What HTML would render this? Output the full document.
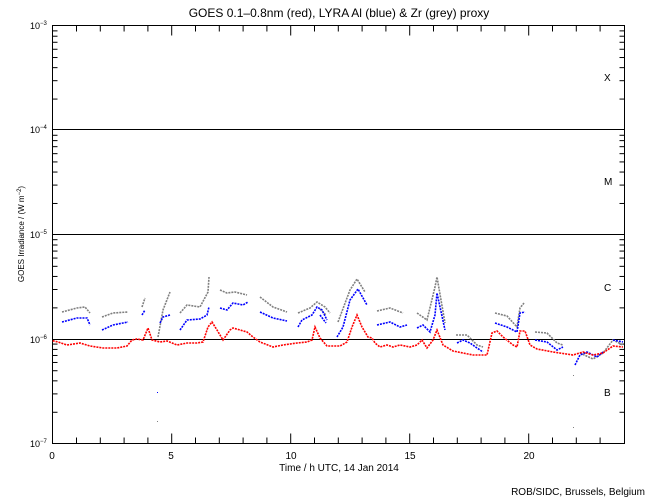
<!DOCTYPE html>
<html><head><meta charset="utf-8"><style>
body{margin:0;background:#fff;}
svg{display:block;font-family:"Liberation Sans",sans-serif;}
</style></head><body>
<svg id="s" width="650" height="500" xmlns="http://www.w3.org/2000/svg">
<rect width="650" height="500" fill="#fff"/>
<text x="339" y="17" font-size="12" text-anchor="middle">GOES 0.1–0.8nm (red), LYRA Al (blue) &amp; Zr (grey) proxy</text>
<g stroke="#000" stroke-width="1" fill="none">
<rect x="52.5" y="25.5" width="572" height="418"/>
<line x1="52" y1="129.5" x2="624" y2="129.5"/>
<line x1="52" y1="234.5" x2="624" y2="234.5"/>
<line x1="52" y1="339.5" x2="624" y2="339.5"/>
</g>
<g id="ticks" stroke="#000" stroke-width="1"></g>
<g font-size="9">
<text x="30" y="447">10<tspan font-size="6" dy="-4">−7</tspan></text>
<text x="30" y="343">10<tspan font-size="6" dy="-4">−6</tspan></text>
<text x="30" y="238">10<tspan font-size="6" dy="-4">−5</tspan></text>
<text x="30" y="133">10<tspan font-size="6" dy="-4">−4</tspan></text>
<text x="30" y="29">10<tspan font-size="6" dy="-4">−3</tspan></text>
</g>
<g font-size="10">
<text x="604" y="81">X</text><text x="604" y="185">M</text><text x="604" y="291">C</text><text x="604" y="396">B</text>
<text x="52" y="459" text-anchor="middle">0</text><text x="171" y="459" text-anchor="middle">5</text>
<text x="291" y="459" text-anchor="middle">10</text><text x="410" y="459" text-anchor="middle">15</text>
<text x="529" y="459" text-anchor="middle">20</text>
<text x="339" y="471" text-anchor="middle">Time / h UTC, 14 Jan 2014</text>
<text x="645" y="495" text-anchor="end">ROB/SIDC, Brussels, Belgium</text>
</g>
<text transform="translate(24,234) rotate(-90)" font-size="8" text-anchor="middle">GOES Irradiance / (W m<tspan font-size="6" dy="-3">−2</tspan><tspan dy="3">)</tspan></text>
<g fill="none" stroke-width="1.6" stroke-dasharray="2 1">
<g stroke="#808080">
<polyline points="62,312 77,308 85,307 90,313"/>
<polyline points="102,317 113,313 128,312"/>
<polyline points="142,307 145,298"/>
<polyline points="158,337 163,310 170,292"/>
<polyline points="180,313 187,305 200,307 208,292 209,277"/>
<polyline points="220,290 227,293 235,292 247,295"/>
<polyline points="260,297 273,307 287,312"/>
<polyline points="298,313 310,308 317,302 325,307 330,313"/>
<polyline points="320,309 326,315"/>
<polyline points="338,322 350,290 357,279 365,292"/>
<polyline points="377,311 390,308 403,313"/>
<polyline points="417,313 427,320 435,287 437,277 445,323"/>
<polyline points="456,335 467,335 477,345 483,347"/>
<polyline points="495,313 507,316 517,327 520,308 524,303"/>
<polyline points="535,332 547,333 557,343 563,345"/>
<polyline points="580,353 593,359 603,353 613,340 623,345"/>
</g>
<g stroke="#0000ff">
<polyline points="62,322 77,318 87,318 90,325"/>
<polyline points="102,330 113,325 128,322"/>
<polyline points="142,315 145,310"/>
<polyline points="160,323 163,317 170,315"/>
<polyline points="180,330 187,320 200,319 207,315 209,307"/>
<polyline points="220,308 227,310 233,303 243,305 248,302"/>
<polyline points="260,312 273,318 287,321"/>
<polyline points="298,327 302,320 312,315 317,307 322,310 327,320"/>
<polyline points="320,315 326,323"/>
<polyline points="337,337 343,327 350,300 358,289 367,305"/>
<polyline points="377,325 390,322 400,327 407,325"/>
<polyline points="417,328 423,325 430,332 435,315 437,293 440,307 445,330"/>
<polyline points="457,343 463,340 470,343 477,348 483,352"/>
<polyline points="495,323 507,327 517,332 520,313 525,312"/>
<polyline points="535,340 547,342 557,350 563,347"/>
<polyline points="575,365 580,355 587,352 597,357 603,352"/>
<polyline points="613,340 623,342"/>
</g>
<g stroke="#ff0000">
<polyline points="52.7,340.7 58,342 67,345 80,343 90,346 103,348 117,348 127,346 132,340 137,339 143,340 148,328 152,340 160,342 167,341 177,345 187,343 197,343 203,342 208,327 212,322 217,330 223,340 230,330 233,328 240,330 247,332 253,337 260,342 273,347 283,345 297,343 307,342 312,340 315,327 320,338 327,346 340,346 347,342 352,327 357,315 362,327 368,337 372,338 375,343 380,347 387,345 393,347 400,345 410,347 417,345 422,340 427,348 433,340 437,330 443,345 453,351 463,353 473,355 487,355 492,333 497,331 503,337 513,345 517,347 520,331 525,331 530,345 537,349 553,352 573,355 583,352 593,355 603,353 613,346 623,347"/>
</g>
</g>
<g fill="#808080"><rect x="157" y="421" width="1" height="1"/><rect x="157" y="392" width="1" height="1" fill="#00f"/><rect x="573" y="427" width="1" height="1"/><rect x="573" y="375" width="1" height="1"/></g>
</svg>
<script>
var g=document.getElementById('ticks'),ns='http://www.w3.org/2000/svg';
function L(a,b,c,d){var l=document.createElementNS(ns,'line');l.setAttribute('x1',a);l.setAttribute('y1',b);l.setAttribute('x2',c);l.setAttribute('y2',d);g.appendChild(l);}
for(var h=1;h<24;h++){var x=52.7+h*23.8;var len=(h%5==0)?10:6;L(x,443.5,x,443.5-len);L(x,25.5,x,25.5+len);}
for(var d=0;d<4;d++){var base=443.7-d*104.4;for(var k=2;k<=9;k++){var y=base-Math.log10(k)*104.4;L(52.5,y,57.5,y);L(624.5,y,619.5,y);}}
</script>
</body></html>
